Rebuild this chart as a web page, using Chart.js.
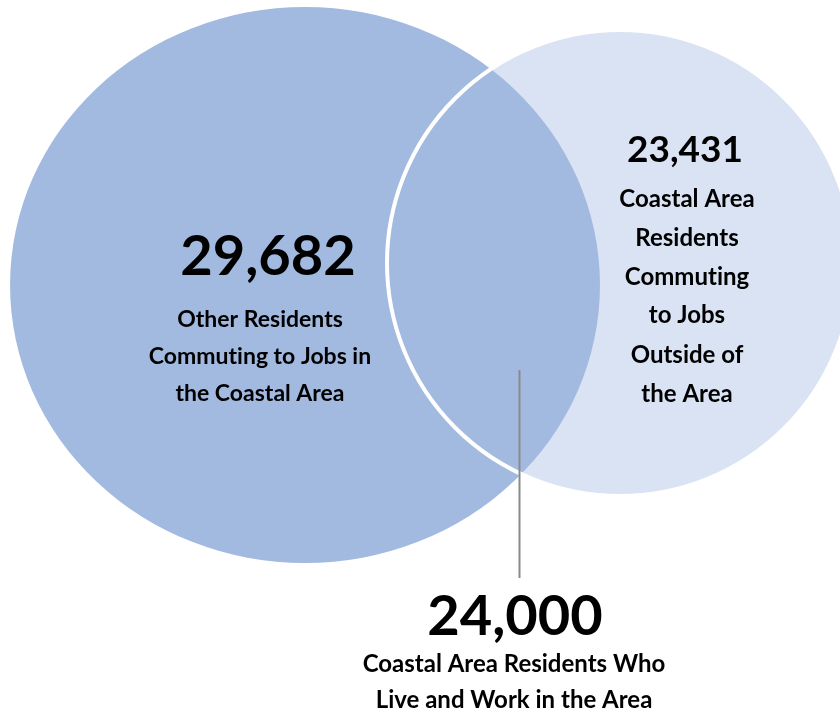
<!DOCTYPE html>
<html>
<head>
<meta charset="utf-8">
<style>
  html, body { margin: 0; padding: 0; background: #fff; }
  #venn { display: block; }
</style>
<script src="https://cdn.jsdelivr.net/npm/chart.js@4/dist/chart.umd.min.js"></script>
</head>
<body>
<canvas id="venn" width="840" height="711"></canvas>
<script>
// commuter flows for the coastal area
const groups = ['Other residents', 'Coastal residents working outside', 'Coastal residents working inside']
const counts = [29682, 23431, 24000]
const captions = [
  ['Other Residents', 'Commuting to Jobs in', 'the Coastal Area'],
  ['Coastal Area', 'Residents', 'Commuting', 'to Jobs', 'Outside of', 'the Area'],
  ['Coastal Area Residents Who', 'Live and Work in the Area'],
]

const DARK = '#a2b9e0'
const LIGHT = '#dae3f3'
const FONT = 'Lato, "Open Sans", sans-serif'

// circle layout in pixel-like units (x right, y down)
const inflow = { x: 305, y: 285, r: 278, stretchX: 1.061 }
const outflow = { x: 620, y: 263, r: 233 }

// label anchors: number baseline + caption baselines
const labelLayout = [
  { x: 268, y: 275, size: 56, cx: 260, lines: [327, 364, 401], capSize: 23 },
  { x: 685, y: 162, size: 37, cx: 687, lines: [207, 246, 285, 323, 363, 402], capSize: 24 },
  { x: 515, y: 635, size: 56, cx: 514, lines: [672, 708], capSize: 24 },
]
const leader = { x: 519.5, y1: 370, y2: 578 }

// stretch one bubble into an ellipse around its own centre
const ellipsePlugin = {
  id: 'ellipse',
  beforeDatasetDraw(chart, args) {
    const ds = chart.data.datasets[args.index]
    if (!ds.stretchX) return
    const el = args.meta.data[0]
    const ctx = chart.ctx
    ctx.save()
    ctx.translate(el.x, el.y)
    ctx.scale(ds.stretchX, 1)
    ctx.translate(-el.x, -el.y)
  },
  afterDatasetDraw(chart, args) {
    const ds = chart.data.datasets[args.index]
    if (ds.stretchX) chart.ctx.restore()
  },
}

const labelPlugin = {
  id: 'vennLabels',
  afterDraw(chart) {
    const { ctx, scales: { x, y } } = chart
    ctx.save()

    // leader line from the overlap down to its label
    ctx.strokeStyle = '#8a8a8a'
    ctx.lineWidth = 2
    ctx.beginPath()
    ctx.moveTo(x.getPixelForValue(leader.x), y.getPixelForValue(leader.y1))
    ctx.lineTo(x.getPixelForValue(leader.x), y.getPixelForValue(leader.y2))
    ctx.stroke()

    ctx.fillStyle = '#000'
    ctx.textAlign = 'center'
    ctx.textBaseline = 'alphabetic'
    ctx.textRendering = 'optimizeSpeed'   // no "ti" ligature
    counts.forEach((n, i) => {
      const l = labelLayout[i]
      ctx.font = `700 ${l.size}px ${FONT}`
      ctx.fillText(n.toLocaleString('en-US'), x.getPixelForValue(l.x), y.getPixelForValue(l.y))
      ctx.font = `700 ${l.capSize}px ${FONT}`
      captions[i].forEach((line, j) => {
        ctx.fillText(line, x.getPixelForValue(l.cx), y.getPixelForValue(l.lines[j]))
      })
    })
    ctx.restore()
  },
}

// datasets draw last-to-first, so the rim sits on top and the light circle at the back
function render() {
  new Chart(document.getElementById('venn'), {
    type: 'bubble',
    data: {
      labels: groups,
      datasets: [
        {
          // white rim of the outside-jobs circle, drawn over the overlap
          label: 'rim',
          data: [{ x: outflow.x, y: outflow.y, r: outflow.r }],
          backgroundColor: 'rgba(0,0,0,0)',
          borderColor: '#ffffff',
          borderWidth: 4,
          clip: false,
        },
        {
          label: groups[0],
          data: [{ x: inflow.x, y: inflow.y, r: inflow.r }],
          backgroundColor: DARK,
          borderWidth: 0,
          stretchX: inflow.stretchX,
          clip: false,
        },
        {
          label: groups[1],
          data: [{ x: outflow.x, y: outflow.y, r: outflow.r }],
          backgroundColor: LIGHT,
          borderWidth: 0,
          clip: false,
        },
      ],
    },
    options: {
      responsive: false,
      animation: false,
      events: [],
      layout: { padding: 0, autoPadding: false },
      scales: {
        x: { display: false, min: 0, max: 840 },
        y: { display: false, min: 0, max: 711, reverse: true },
      },
      plugins: {
        legend: { display: false },
        tooltip: { enabled: false },
      },
    },
    plugins: [ellipsePlugin, labelPlugin],
  })
}

document.fonts.load(`700 20px ${FONT}`).then(render, render)
</script>
</body>
</html>
